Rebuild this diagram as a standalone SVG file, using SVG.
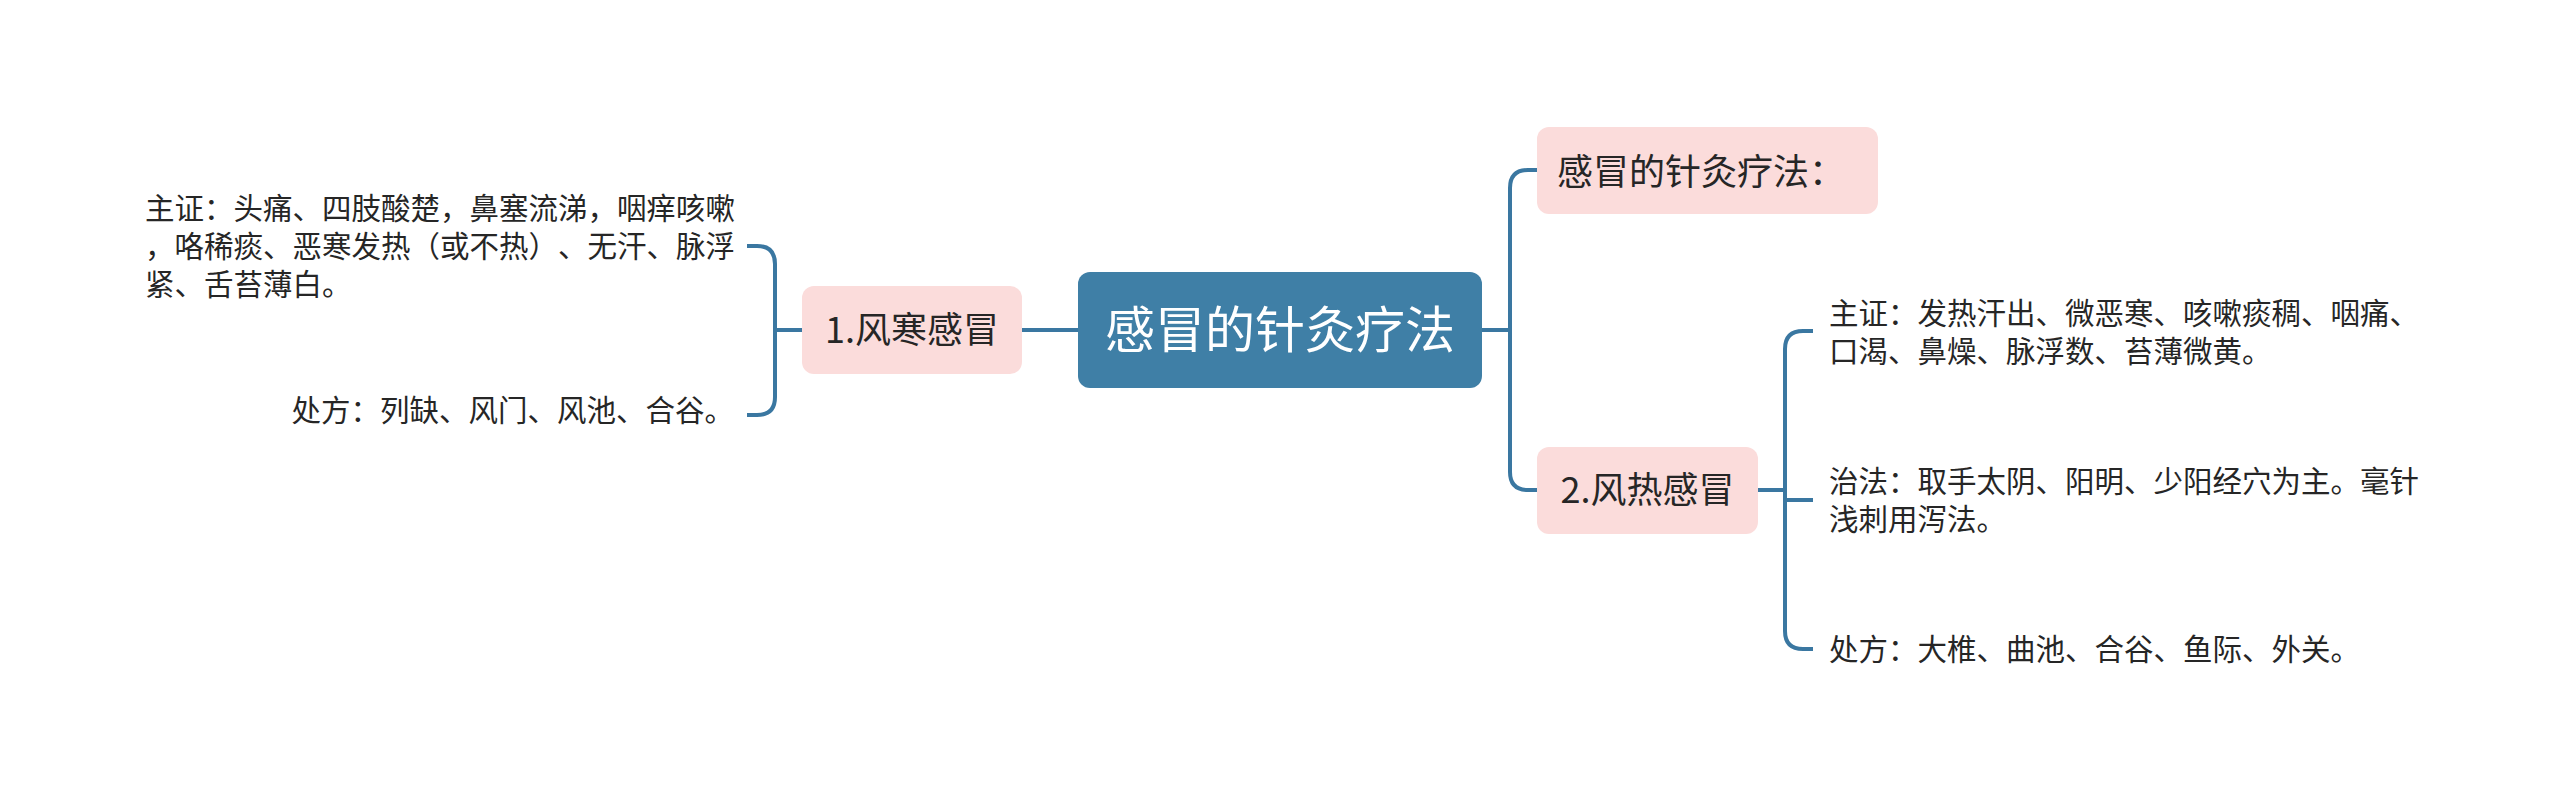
<svg xmlns="http://www.w3.org/2000/svg" width="2560" height="810" viewBox="0 0 2560 810">
<style>
.bg{fill:#ffffff}
.main{fill:#3f7fa6}
.sub{fill:#fbdcdb}
text{text-spacing-trim:space-all}
.t{font-family:"Noto Sans CJK SC","Noto Sans",sans-serif;fill:#262626}
.mt{font-family:"Noto Sans CJK SC","Noto Sans",sans-serif;fill:#ffffff;font-size:50px}
.st{font-size:36px}
.lt{font-size:29.5px}
.c{fill:none;stroke:#3a77a1;stroke-width:4;stroke-linecap:butt;stroke-linejoin:round}
</style>
<rect class="bg" x="0" y="0" width="2560" height="810"/>
<g id="connectors">
<path class="c" d="M1482,330 H1510"/>
<path class="c" d="M1537,170 H1528 Q1510,170 1510,188 V472 Q1510,490 1528,490 H1537"/>
<path class="c" d="M1022,330 H1078"/>
<path class="c" d="M802,330 H775"/>
<path class="c" d="M747,246 H757 Q775,246 775,264 V397 Q775,415 757,415 H747"/>
<path class="c" d="M1758,490 H1785"/>
<path class="c" d="M1813,331 H1803 Q1785,331 1785,349 V631 Q1785,649 1803,649 H1813"/>
<path class="c" d="M1785,500 H1813"/>
</g>
<g id="root">
<rect class="main" x="1078" y="272" width="404" height="116" rx="12"/>
<text class="mt" x="1280" y="348" text-anchor="middle">感冒的针灸疗法</text>
</g>
<g id="n-method">
<rect class="sub" x="1537" y="127" width="341" height="87" rx="12"/>
<text class="t st" x="1557" y="185">感冒的针灸疗法：</text>
</g>
<g id="n-fengre">
<rect class="sub" x="1537" y="447" width="221" height="87" rx="12"/>
<text class="t st" x="1647.5" y="503" text-anchor="middle">2.风热感冒</text>
</g>
<g id="n-fenghan">
<rect class="sub" x="802" y="286" width="220" height="88" rx="12"/>
<text class="t st" x="912" y="343" text-anchor="middle">1.风寒感冒</text>
</g>
<g id="l-zhuzheng">
<text class="t lt" x="145" y="219">主证：头痛、四肢酸楚，鼻塞流涕，咽痒咳嗽</text>
<text class="t lt" x="145" y="257">，咯稀痰、恶寒发热（或不热）、无汗、脉浮</text>
<text class="t lt" x="145" y="295">紧、舌苔薄白。</text>
</g>
<g id="l-chufang">
<text class="t lt" x="734" y="421" text-anchor="end">处方：列缺、风门、风池、合谷。</text>
</g>
<g id="r-zhuzheng">
<text class="t lt" x="1829" y="324">主证：发热汗出、微恶寒、咳嗽痰稠、咽痛、</text>
<text class="t lt" x="1829" y="362">口渴、鼻燥、脉浮数、苔薄微黄。</text>
</g>
<g id="r-zhifa">
<text class="t lt" x="1829" y="492">治法：取手太阴、阳明、少阳经穴为主。毫针</text>
<text class="t lt" x="1829" y="530">浅刺用泻法。</text>
</g>
<g id="r-chufang">
<text class="t lt" x="1829" y="660">处方：大椎、曲池、合谷、鱼际、外关。</text>
</g>
</svg>
